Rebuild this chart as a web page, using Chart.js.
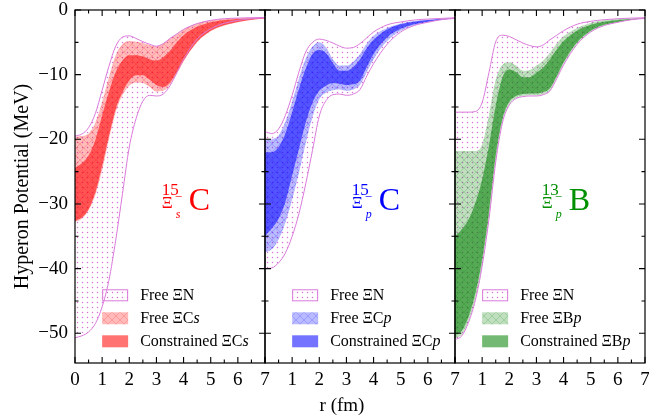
<!DOCTYPE html>
<html>
<head>
<meta charset="utf-8">
<script src="https://cdn.jsdelivr.net/npm/chart.js@4.4.1/dist/chart.umd.min.js"></script>
<style>
  html, body { margin: 0; padding: 0; background: #fff; }
  #wrap { position: relative; width: 649px; height: 418px; }
  #wrap canvas { position: absolute; left: 0; top: 0; }
</style>
</head>
<body>
<div id="wrap">
  <canvas id="c0" width="649" height="418"></canvas>
  <canvas id="c1" width="649" height="418"></canvas>
  <canvas id="c2" width="649" height="418"></canvas>
</div>
<script>
// radial grid (fm)
const r = [0, 0.25, 0.5, 0.75, 1, 1.25, 1.5, 1.75, 2, 2.25, 2.5, 2.75, 3, 3.25, 3.5, 3.75, 4, 4.5, 5, 5.5, 6, 6.5, 7];

// 15C, Xi_s
const csFreeNHi = [-19.5,-19.2,-18.2,-16.0,-12.4,-8.7,-5.6,-4.2,-4.0,-4.4,-4.9,-5.3,-5.6,-5.2,-4.4,-3.7,-3.0,-2.1,-1.6,-1.35,-1.25,-1.2,-1.15];
const csFreeNLo = [-50.7,-50.4,-49.8,-48.5,-45.9,-41.8,-35.6,-28.4,-21.2,-16.8,-14.1,-13.2,-13.3,-13.0,-11.7,-9.7,-7.6,-4.5,-2.9,-2.05,-1.6,-1.35,-1.2];
const csFreeCHi = [-19.6,-19.5,-19.1,-17.4,-14.2,-10.4,-7.0,-5.3,-4.8,-4.9,-5.1,-5.4,-5.6,-5.2,-4.4,-3.7,-3.0,-2.1,-1.6,-1.35,-1.25,-1.2,-1.15];
const csFreeCLo = [-32.8,-32.3,-31.0,-28.6,-24.8,-20.0,-15.8,-13.2,-11.7,-11.2,-11.3,-11.9,-12.6,-12.5,-11.6,-9.9,-8.0,-5.0,-3.3,-2.4,-1.9,-1.55,-1.3];
const csConHi   = [-24.4,-23.7,-22.5,-20.1,-16.3,-12.7,-9.6,-7.8,-7.0,-7.0,-7.2,-7.6,-7.8,-7.3,-6.3,-5.0,-3.9,-2.6,-1.9,-1.55,-1.4,-1.3,-1.2];
const csConLo   = [-32.6,-32.1,-30.8,-28.2,-24.1,-19.5,-15.3,-12.7,-10.9,-10.1,-10.1,-10.8,-11.6,-11.9,-11.2,-9.6,-7.8,-4.9,-3.2,-2.35,-1.85,-1.5,-1.3];

// 15C, Xi_p
const cpFreeNHi = [-18.8,-19.1,-18.4,-16.3,-13.2,-9.6,-6.5,-5.0,-4.5,-4.7,-5.1,-5.6,-5.9,-5.8,-5.2,-4.3,-3.4,-2.3,-1.85,-1.55,-1.4,-1.3,-1.2];
const cpFreeNLo = [-40.0,-39.9,-39.1,-37.6,-35.0,-31.5,-26.9,-21.7,-16.4,-14.0,-13.1,-13.0,-13.2,-13.0,-12.3,-10.2,-8.3,-5.3,-3.4,-2.4,-1.9,-1.5,-1.3];
const cpFreeCHi = [-20.2,-20.0,-19.4,-17.3,-14.2,-10.6,-7.5,-5.7,-5.0,-5.8,-7.6,-8.6,-8.6,-8.0,-6.8,-5.2,-4.0,-2.8,-2.1,-1.7,-1.5,-1.35,-1.25];
const cpFreeCLo = [-37.5,-37.0,-35.5,-32.9,-29.3,-25.2,-20.6,-16.5,-13.8,-12.8,-12.4,-12.3,-12.5,-12.3,-11.6,-9.6,-7.6,-4.8,-3.2,-2.35,-1.85,-1.5,-1.3];
const cpConHi   = [-22.0,-22.0,-21.2,-19.1,-15.8,-12.2,-9.1,-6.8,-6.2,-6.7,-8.2,-9.4,-9.4,-8.8,-7.6,-5.9,-4.6,-3.0,-2.2,-1.8,-1.55,-1.4,-1.3];
const cpConLo   = [-34.9,-33.8,-32.3,-29.7,-25.6,-21.5,-17.4,-14.3,-12.5,-11.7,-11.3,-11.4,-11.6,-11.5,-10.9,-8.8,-6.8,-4.2,-2.9,-2.2,-1.8,-1.5,-1.3];

// 13B, Xi_p
const bpFreeNHi = [-15.8,-15.8,-15.8,-15.7,-14.3,-9.7,-4.9,-3.9,-4.1,-4.6,-5.1,-5.5,-5.7,-5.4,-4.6,-3.9,-3.2,-2.2,-1.75,-1.5,-1.35,-1.25,-1.2];
const bpFreeNLo = [-51.0,-50.4,-48.3,-44.9,-39.6,-32.4,-23.5,-17.4,-14.7,-13.7,-13.4,-13.3,-13.3,-13.1,-12.5,-10.6,-8.5,-5.3,-3.4,-2.4,-1.9,-1.5,-1.3];
const bpFreeCHi = [-21.8,-21.8,-21.8,-21.8,-20.8,-16.3,-10.8,-8.5,-8.1,-8.6,-9.4,-9.3,-8.6,-7.8,-6.6,-5.2,-4.1,-2.8,-2.0,-1.6,-1.4,-1.3,-1.2];
const bpFreeCLo = [-50.8,-50.2,-48.1,-44.7,-39.5,-32.2,-23.3,-17.3,-14.6,-13.6,-13.3,-13.2,-13.2,-13.0,-12.4,-10.5,-8.4,-5.2,-3.35,-2.4,-1.9,-1.5,-1.3];
const bpConHi   = [-35.0,-33.9,-32.4,-29.8,-26.2,-21.0,-14.8,-10.4,-9.2,-9.6,-10.4,-10.4,-9.7,-8.9,-7.6,-6.1,-4.8,-3.2,-2.3,-1.8,-1.55,-1.4,-1.3];
const bpConLo   = [-50.3,-49.6,-47.4,-43.8,-38.6,-31.3,-22.5,-16.8,-14.2,-13.3,-13.0,-12.9,-12.9,-12.7,-12.1,-10.2,-8.1,-5.0,-3.2,-2.3,-1.85,-1.5,-1.3];

const xTicks = [0, 1, 2, 3, 4, 5, 6, 7];
const yTicks = [0, -10, -20, -30, -40, -50];
const nuclei = ['C', 'C', 'B'];
const masses = ['15', '15', '13'];
const subs = ['s', 'p', 'p'];
const legendNames = ['Free ΞN', 'Free ΞC', 'Constrained ΞC'];

const SERIF = '"Liberation Serif", "Times New Roman", serif';
const PINK = '#da7ada';
const yMin = -54.6;
const xMin = 0, xMax = 7;

function dotPattern() {
  const c = document.createElement('canvas');
  c.width = 5; c.height = 5;
  const g = c.getContext('2d');
  g.fillStyle = '#d872d8';
  g.beginPath();
  g.arc(2.5, 2.5, 0.75, 0, Math.PI * 2);
  g.fill();
  return g.createPattern(c, 'repeat');
}

function crossPattern(bg, line) {
  const c = document.createElement('canvas');
  c.width = 8; c.height = 8;
  const g = c.getContext('2d');
  g.fillStyle = bg;
  g.fillRect(0, 0, 8, 8);
  g.strokeStyle = line;
  g.lineWidth = 0.8;
  g.beginPath();
  g.moveTo(0, 0); g.lineTo(8, 8);
  g.moveTo(8, 0); g.lineTo(0, 8);
  g.stroke();
  return g.createPattern(c, 'repeat');
}

const pts = arr => r.map((x, k) => ({ x: x, y: arr[k] }));

const panels = [
  { con: [csConHi, csConLo], free: [csFreeCHi, csFreeCLo], freeN: [csFreeNHi, csFreeNLo],
    color: '#ff0000', solid: 'rgba(255,0,0,0.55)', light: 'rgba(255,0,0,0.27)', hatch: 'rgba(255,0,0,0.22)' },
  { con: [cpConHi, cpConLo], free: [cpFreeCHi, cpFreeCLo], freeN: [cpFreeNHi, cpFreeNLo],
    color: '#0000ff', solid: 'rgba(0,0,255,0.55)', light: 'rgba(0,0,255,0.27)', hatch: 'rgba(0,0,255,0.22)' },
  { con: [bpConHi, bpConLo], free: [bpFreeCHi, bpFreeCLo], freeN: [bpFreeNHi, bpFreeNLo],
    color: '#009000', solid: 'rgba(0,128,0,0.55)', light: 'rgba(0,128,0,0.25)', hatch: 'rgba(0,128,0,0.22)' }
];

function band(hi, lo, bg, border) {
  const bw = border ? 1 : 0;
  return [
    { data: pts(hi), fill: '+1', backgroundColor: bg, borderColor: border || 'rgba(0,0,0,0)', borderWidth: bw,
      pointRadius: 0, cubicInterpolationMode: 'monotone' },
    { data: pts(lo), fill: false, backgroundColor: bg, borderColor: border || 'rgba(0,0,0,0)', borderWidth: bw,
      pointRadius: 0, cubicInterpolationMode: 'monotone' }
  ];
}

function drawSwatchText(ctx, x, y, main, ital) {
  ctx.font = '16px ' + SERIF;
  ctx.fillText(main, x, y);
  if (ital) {
    const w = ctx.measureText(main).width;
    ctx.font = 'italic 16px ' + SERIF;
    ctx.fillText(ital, x + w, y);
  }
}

const framePlugin = {
  id: 'frame',
  afterDraw(chart) {
    const { ctx, chartArea: a } = chart;
    const xs = chart.scales.x, ys = chart.scales.y;
    const i = chart.options.plugins.frame.index;
    const p = panels[i];
    ctx.save();
    // frame
    ctx.strokeStyle = '#000';
    ctx.lineWidth = 1.2;
    ctx.strokeRect(a.left, a.top, a.right - a.left, a.bottom - a.top);
    // inward ticks on all sides
    ctx.lineWidth = 1.1;
    ctx.beginPath();
    for (let v = xMin; v <= xMax; v += 0.5) {
      const px = xs.getPixelForValue(v);
      const len = Number.isInteger(v) ? 6 : 3.5;
      ctx.moveTo(px, a.bottom); ctx.lineTo(px, a.bottom - len);
      ctx.moveTo(px, a.top); ctx.lineTo(px, a.top + len);
    }
    for (let v = 0; v >= yMin; v -= 5) {
      const py = ys.getPixelForValue(v);
      const len = v % 10 === 0 ? 6 : 3.5;
      ctx.moveTo(a.left, py); ctx.lineTo(a.left + len, py);
      ctx.moveTo(a.right, py); ctx.lineTo(a.right - len, py);
    }
    ctx.stroke();

    // nucleus label
    const x0 = xs.getPixelForValue(3.2);
    const yb = ys.getPixelForValue(-31);
    ctx.fillStyle = p.color;
    ctx.textAlign = 'left';
    ctx.textBaseline = 'alphabetic';
    ctx.font = '17px ' + SERIF;
    ctx.fillText(masses[i], x0, yb - 15);
    ctx.fillText('Ξ', x0, yb - 2);
    ctx.font = '13px ' + SERIF;
    ctx.fillText('−', x0 + 13, yb - 9);
    ctx.font = 'italic 12px ' + SERIF;
    ctx.fillText(subs[i], x0 + 14, yb + 8);
    ctx.font = '32px ' + SERIF;
    ctx.fillText(nuclei[i], x0 + 27, yb);

    // legend
    const lx = xs.getPixelForValue(1.0);
    const ly = ys.getPixelForValue(-43.2);
    const sw = 26, sh = 12, step = 23;
    ctx.fillStyle = chart.data.datasets[4].backgroundColor;
    ctx.fillRect(lx, ly, sw, sh);
    ctx.strokeStyle = PINK;
    ctx.lineWidth = 1;
    ctx.strokeRect(lx + 0.5, ly + 0.5, sw - 1, sh - 1);
    ctx.fillStyle = chart.data.datasets[2].backgroundColor;
    ctx.fillRect(lx, ly + step, sw, sh);
    ctx.fillStyle = p.solid;
    ctx.fillRect(lx, ly + 2 * step, sw, sh);
    ctx.fillStyle = '#000';
    const tx = lx + 38;
    const ital = subs[i];
    const letter = nuclei[i];
    drawSwatchText(ctx, tx, ly + sh - 1, legendNames[0], '');
    drawSwatchText(ctx, tx, ly + step + sh - 1, legendNames[1].replace('C', letter), ital);
    drawSwatchText(ctx, tx, ly + 2 * step + sh - 1, legendNames[2].replace('ΞC', 'Ξ' + letter), ital);

    // shared x title under the middle panel
    if (i === 1) {
      ctx.fillStyle = '#000';
      ctx.font = '19px ' + SERIF;
      ctx.textAlign = 'center';
      ctx.fillText('r (fm)', (a.left + a.right) / 2 - 18, 411);
    }
    ctx.restore();
  }
};

const lefts = [75, 265, 455];
const rights = [265, 455, 645];

panels.forEach((p, i) => {
  const datasets = [].concat(
    band(p.con[0], p.con[1], p.solid, null),
    band(p.free[0], p.free[1], crossPattern(p.light, p.hatch), null),
    band(p.freeN[0], p.freeN[1], dotPattern(), PINK)
  );
  new Chart(document.getElementById('c' + i), {
    type: 'line',
    data: { datasets: datasets },
    options: {
      responsive: false,
      animation: false,
      events: [],
      layout: { padding: { left: 0, right: 649 - rights[i], top: 10, bottom: 0 } },
      plugins: {
        legend: { display: false },
        tooltip: { enabled: false },
        filler: { drawTime: 'beforeDatasetsDraw', propagate: false },
        frame: { index: i }
      },
      scales: {
        x: {
          type: 'linear', min: xMin, max: xMax,
          grid: { display: false, drawTicks: false },
          border: { display: false },
          afterBuildTicks: s => { s.ticks = xTicks.map(v => ({ value: v })); },
          afterFit: s => { s.height = 55; s.paddingLeft = 0; s.paddingRight = 0; },
          ticks: {
            autoSkip: false, maxRotation: 0, padding: 6, color: '#000',
            font: { family: SERIF, size: 19 },
            callback: v => (i > 0 && v === 0) ? '' : String(v)
          }
        },
        y: {
          type: 'linear', min: yMin, max: 0,
          grid: { display: false, drawTicks: false },
          border: { display: false },
          afterBuildTicks: s => { s.ticks = yTicks.map(v => ({ value: v })); },
          afterFit: s => { s.width = lefts[i]; s.paddingTop = 0; s.paddingBottom = 0; },
          ticks: {
            display: i === 0,
            padding: 7, color: '#000',
            font: { family: SERIF, size: 19 },
            callback: v => String(v).replace('-', '−')
          },
          title: {
            display: i === 0, text: 'Hyperon Potential (MeV)', color: '#000',
            font: { family: SERIF, size: 20 }, padding: { top: 11, bottom: 0 }
          }
        }
      }
    },
    plugins: [framePlugin]
  });
});
</script>
</body>
</html>
